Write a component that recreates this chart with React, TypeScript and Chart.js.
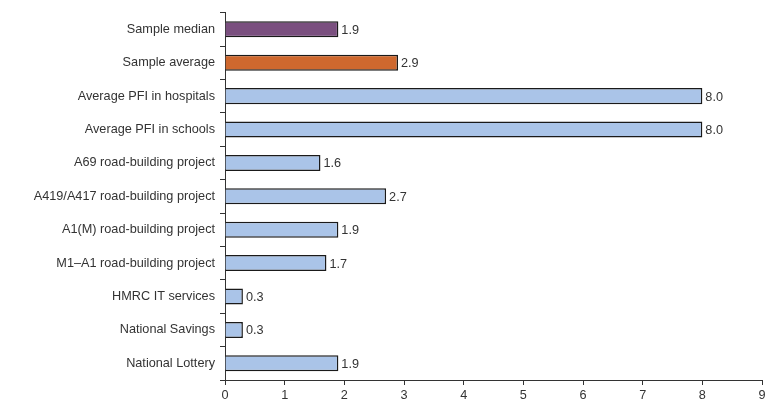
import React, { useEffect, useRef } from "react";
import { Chart, registerables } from "chart.js";

Chart.register(...registerables);

const categories = [
  "Sample median",
  "Sample average",
  "Average PFI in hospitals",
  "Average PFI in schools",
  "A69 road-building project",
  "A419/A417 road-building project",
  "A1(M) road-building project",
  "M1–A1 road-building project",
  "HMRC IT services",
  "National Savings",
  "National Lottery",
];
const values = [1.9, 2.9, 8.0, 8.0, 1.6, 2.7, 1.9, 1.7, 0.3, 0.3, 1.9];
const barColors = [
  "#7a4f7f",
  "#cf682e",
  "#aac4e8",
  "#aac4e8",
  "#aac4e8",
  "#aac4e8",
  "#aac4e8",
  "#aac4e8",
  "#aac4e8",
  "#aac4e8",
  "#aac4e8",
];
const xTicks = [0, 1, 2, 3, 4, 5, 6, 7, 8, 9];

const FONT = "'Liberation Sans', Arial, sans-serif";
const FS = 12.7;

const valueLabels = {
  id: "valueLabels",
  afterDatasetsDraw(chart: any) {
    const ctx = chart.ctx;
    const meta = chart.getDatasetMeta(0);
    ctx.save();
    ctx.font = `${FS}px ${FONT}`;
    ctx.fillStyle = "#333";
    ctx.textAlign = "left";
    ctx.textBaseline = "middle";
    meta.data.forEach((bar: any, i: number) => {
      ctx.fillText(values[i].toFixed(1), bar.x + 3, bar.y + 1);
    });
    ctx.restore();
  },
};

export default function App() {
  const ref = useRef<HTMLCanvasElement | null>(null);
  useEffect(() => {
    if (!ref.current) return;
    const chart = new Chart(ref.current, {
      type: "bar",
      data: {
        labels: categories,
        datasets: [
          {
            data: values,
            backgroundColor: barColors,
            borderColor: "#1a1a1a",
            borderWidth: 1.5,
            borderSkipped: "left",
            barPercentage: 0.48,
            categoryPercentage: 1,
          },
        ],
      },
      options: {
        indexAxis: "y",
        animation: false,
        responsive: true,
        maintainAspectRatio: false,
        layout: { padding: { top: 11, right: 8, bottom: 0, left: 0 } },
        plugins: {
          legend: { display: false },
          tooltip: { enabled: false },
        },
        scales: {
          x: {
            type: "linear",
            min: 0,
            max: 9,
            afterBuildTicks: (s: any) => {
              s.ticks = xTicks.map((v) => ({ value: v }));
            },
            afterFit: (s: any) => {
              s.height = 28;
            },
            grid: {
              drawOnChartArea: false,
              drawTicks: true,
              tickLength: 5,
              color: "#333",
            },
            border: { display: true, color: "#333", width: 1 },
            ticks: {
              color: "#333",
              font: { family: FONT, size: FS },
              padding: 3,
              maxRotation: 0,
            },
          },
          y: {
            type: "category",
            afterFit: (s: any) => {
              s.width = 225;
            },
            grid: {
              drawOnChartArea: false,
              drawTicks: true,
              tickLength: 5,
              offset: true,
              color: "#333",
            },
            border: { display: true, color: "#333", width: 1 },
            ticks: {
              color: "#333",
              font: { family: FONT, size: FS },
              padding: 5,
            },
          },
        },
      },
      plugins: [valueLabels],
    });
    return () => chart.destroy();
  }, []);
  return (
    <div style={{ position: "fixed", left: 0, top: 0, width: 770, height: 408, background: "#fff" }}>
      <canvas ref={ref} />
    </div>
  );
}
